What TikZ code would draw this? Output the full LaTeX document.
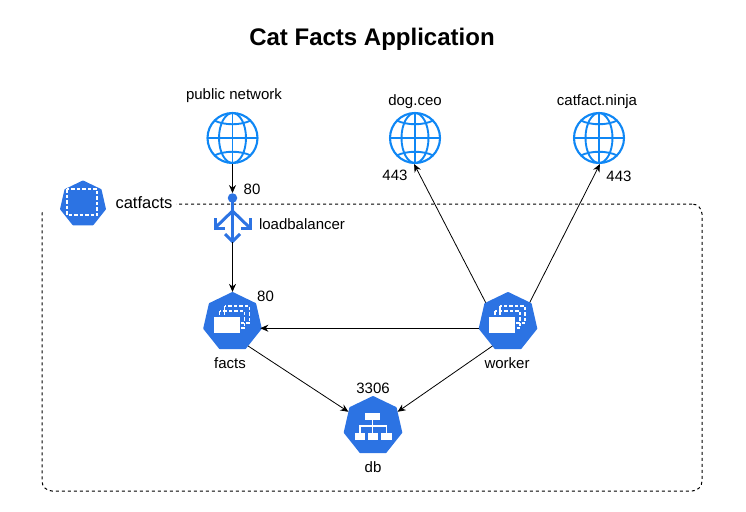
\documentclass[tikz,border=0pt]{standalone}
\usepackage{fontspec}
\setmainfont{Liberation Sans}
\usetikzlibrary{shapes.geometric,arrows.meta}
\definecolor{kblue}{HTML}{2C73E3}
\definecolor{gblue}{HTML}{0F87F5}
\tikzset{
  px/.style={font=\fontsize{#1}{#1}\selectfont},
  lbl/.style={px=15,inner sep=0pt,anchor=center},
  hept/.style={regular polygon,regular polygon sides=7,fill=kblue,draw=kblue,line width=2pt,line join=round,inner sep=0pt,minimum size=#1},
  globe/.style={circle,draw=gblue,line width=2.1pt,fill=white,inner sep=0pt,minimum size=50pt},
  lk/.style={draw=black,line width=0.8pt,-{Stealth[length=8pt,width=7pt]}},
  glin/.style={draw=gblue,line width=1.9pt},
  lb/.style={draw=kblue,line width=3pt,line cap=butt,line join=miter},
  wd/.style={draw=white,line width=1.5pt,dash pattern=on 3.5pt off 2pt},
  wl/.style={draw=white,line width=1.2pt},
  globeart/.pic={
    \draw[glin] (0,-25) -- (0,25) (-25,0) -- (25,0);
    \draw[glin] (0,0) ellipse [x radius=13.5pt,y radius=25pt];
    \draw[glin] (-18.3,-17.5) .. controls (-8,-12.5) and (8,-12.5) .. (18.3,-17.5);
    \draw[glin] (-18.3,17.5) .. controls (-8,12.5) and (8,12.5) .. (18.3,17.5);
  },
  podart/.pic={
    \draw[wd] (-8,-16) rectangle (17,1);
    \draw[wd] (-13,-11) rectangle (12,6);
    \fill[white] (-19,-5.5) rectangle (7,11);
  }
}
\begin{document}
\begin{tikzpicture}[x=1pt,y=-1pt]
\useasboundingbox (0,0) rectangle (746,511);
\node[font=\bfseries\fontsize{24}{24}\selectfont,inner sep=0pt] (title) at (372,39) {Cat Facts Application};

\node[draw=black,line width=1pt,dash pattern=on 3pt off 3pt,rounded corners=10pt,minimum width=660pt,minimum height=287pt,inner sep=0pt] (boundary) at (372,347.5) {};

\node[globe] (pub) at (232.5,138) {};
\node[globe] (dog) at (415,138) {};
\node[globe] (cat) at (599,138) {};
\foreach \g in {pub,dog,cat} \pic at (\g) {globeart};

\node[lbl] (publbl) at (234,96) {public network};
\node[lbl] (doglbl) at (415,101.5) {dog.ceo};
\node[lbl] (catlbl) at (597,101.5) {catfact.ninja};

% namespace
\node[fill=white,inner sep=0pt,minimum width=138pt,minimum height=14pt] (nsbg) at (107,204) {};
\node[hept=45pt] (ns) at (83,204) {};
\draw[wd] (67,189) rectangle (97,215);
\node[inner sep=0pt,px=16.5] (nslbl) at (144,203) {catfacts};

% load balancer
\node[circle,fill=kblue,inner sep=0pt,minimum size=9.5pt] (dot) at (232.5,198) {};
\coordinate (lbtip) at (232.5,241.5);
\draw[lb] (dot.center) -- (lbtip);
\draw[lb] (232.5,211) -- (215.5,227.5);
\draw[lb] (232.5,211) -- (249.5,227.5);
\draw[lb] (215,218) -- (215,228) -- (224.5,228);
\draw[lb] (250,218) -- (250,228) -- (240.5,228);
\draw[lb] (225,234) -- (232.5,241.5) -- (240,234);
\node[lbl] (lblbl) at (302,224) {loadbalancer};
\node[lbl] (p80a) at (252,189.5) {80};

% workloads
\node[hept=58pt] (facts) at (232.5,322) {};
\node[hept=58pt] (worker) at (508,322) {};
\node[hept=58pt] (db) at (373,426) {};
\pic at (facts) {podart};
\pic at (worker) {podart};
\node[lbl] (factslbl) at (230,363.5) {facts};
\node[lbl] (workerlbl) at (507,363.5) {worker};
\node[lbl] (dblbl) at (373,467.5) {db};
\node[lbl] (p80b) at (265.5,296) {80};
\node[lbl] (p3306) at (373,388.5) {3306};
\node[lbl] (p443a) at (395,175) {443};
\node[lbl] (p443b) at (619,176.5) {443};

% db icon
\fill[white] (365,412.5) rectangle (380,419.5);
\fill[white] (354.5,432.5) rectangle (365,439.5);
\fill[white] (367.5,432.5) rectangle (378,439.5);
\fill[white] (381,432.5) rectangle (392,439.5);
\draw[wl] (372.5,419.5) -- (372.5,426) (360,432.5) -- (360,426) -- (386.5,426) -- (386.5,432.5) (372.5,426) -- (372.5,432.5);

% connectors
\draw[lk] (pub.south) -- (dot.north);
\draw[lk] (lbtip) -- (facts.north);
\draw[lk] (worker.192) -- (facts.east |- worker.192);
\draw[lk] (worker.139) -- (dog.-92);
\draw[lk] (worker.42) -- (cat.-88);
\draw[lk] (facts.-57) -- (db.150);
\draw[lk] (worker.-123) -- (db.30);
\end{tikzpicture}
\end{document}
